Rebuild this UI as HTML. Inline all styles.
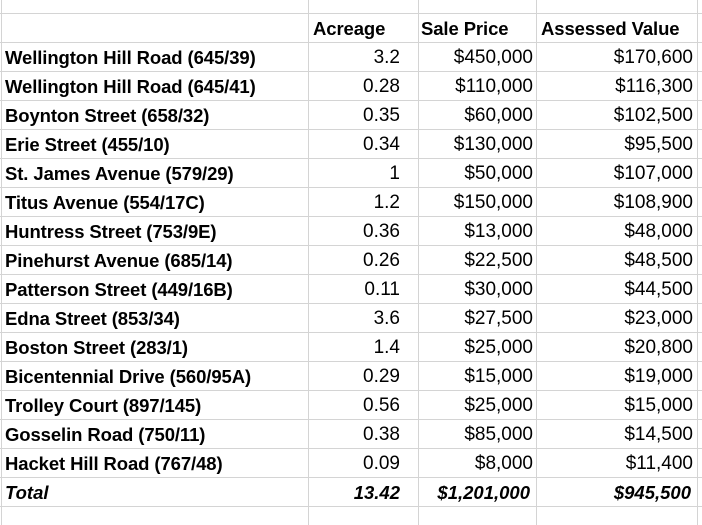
<!DOCTYPE html>
<html><head><meta charset="utf-8"><style>
body{margin:0;width:702px;height:525px;background:#fff;overflow:hidden;position:relative;font-family:"Liberation Sans",sans-serif;}
.hl{position:absolute;left:0;width:702px;height:1px;background:#d4d4d4}
.vl{position:absolute;top:0;height:525px;width:1px;background:#d4d4d4}
.c{position:absolute;height:29px;line-height:30px;font-size:19px;color:#000;white-space:nowrap}
.r{text-align:right}
.b{font-weight:bold;font-size:18.5px;letter-spacing:-0.1px}
.i{font-style:italic;font-weight:bold;font-size:18.5px}
</style></head><body>
<div id="grid"></div>
<div id="cells"></div>
<script>
const names=["Wellington Hill Road (645/39)","Wellington Hill Road (645/41)","Boynton Street (658/32)","Erie Street (455/10)","St. James Avenue (579/29)","Titus Avenue (554/17C)","Huntress Street (753/9E)","Pinehurst Avenue (685/14)","Patterson Street (449/16B)","Edna Street (853/34)","Boston Street (283/1)","Bicentennial Drive (560/95A)","Trolley Court (897/145)","Gosselin Road (750/11)","Hacket Hill Road (767/48)"];
const acreage=["3.2","0.28","0.35","0.34","1","1.2","0.36","0.26","0.11","3.6","1.4","0.29","0.56","0.38","0.09"];
const salePrice=["$450,000","$110,000","$60,000","$130,000","$50,000","$150,000","$13,000","$22,500","$30,000","$27,500","$25,000","$15,000","$25,000","$85,000","$8,000"];
const assessed=["$170,600","$116,300","$102,500","$95,500","$107,000","$108,900","$48,000","$48,500","$44,500","$23,000","$20,800","$19,000","$15,000","$14,500","$11,400"];
const grid=document.getElementById('grid'),cells=document.getElementById('cells');
for(let k=0;k<18;k++){const d=document.createElement('div');d.className='hl';d.style.top=(13+29*k)+'px';

grid.appendChild(d);}
[1,308,418,536,697].forEach(x=>{const d=document.createElement('div');d.className='vl';d.style.left=x+'px';

grid.appendChild(d);});
function cell(txt,x,y,w,cls,name){const d=document.createElement('div');d.className='c '+cls;d.textContent=txt;d.style.left=x+'px';d.style.top=y+'px';if(w)d.style.width=w+'px';

cells.appendChild(d);}
cell("Acreage",313,14,null,'b','header-acreage');
cell("Sale Price",421,14,null,'b','header-sale-price');
cell("Assessed Value",541,14,null,'b','header-assessed-value');
names.forEach((n,i)=>{const y=14+29*(i+1);
cell(n,5,y,null,'b','property-name');
cell(acreage[i],310,y,90,'r','acreage-value');
cell(salePrice[i],420,y,113,'r','sale-price-value');
cell(assessed[i],538,y,155,'r','assessed-value');});
const yt=14+29*16;
cell("Total",5,yt,null,'i','total-label');
cell("13.42",310,yt,90,'r i','total-acreage');
cell("$1,201,000",420,yt,110,'r i','total-sale-price');
cell("$945,500",538,yt,153,'r i','total-assessed-value');
</script>
</body></html>
